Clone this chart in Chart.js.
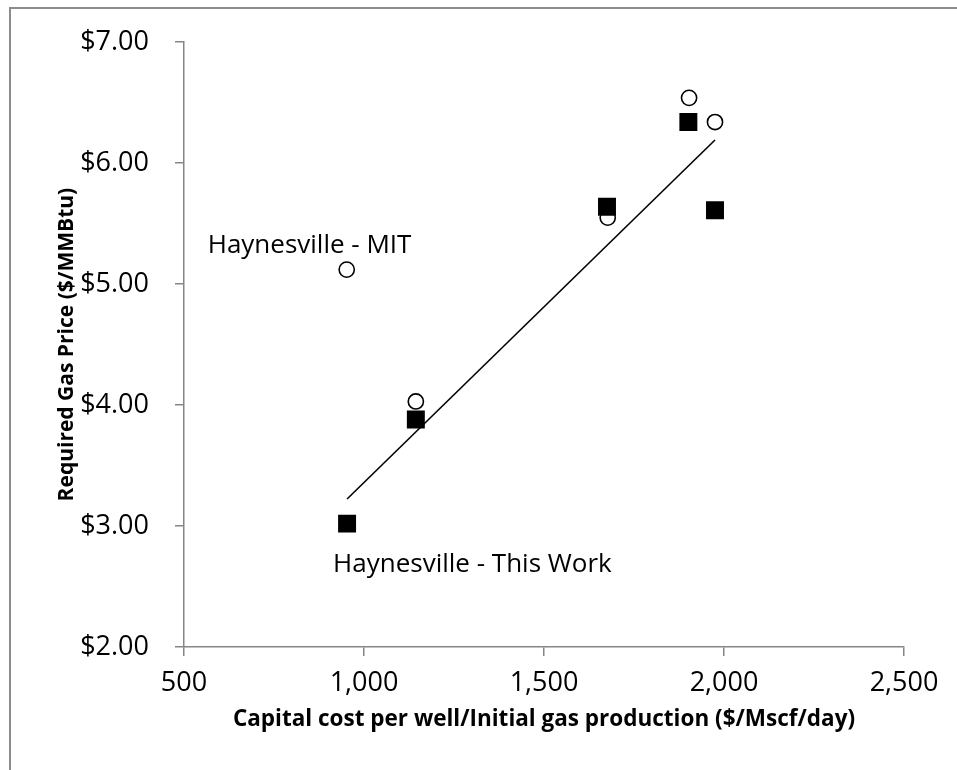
<!DOCTYPE html>
<html>
<head>
<meta charset="utf-8">
<script src="https://cdn.jsdelivr.net/npm/chart.js@4/dist/chart.umd.min.js"></script>
<style>
  html, body { margin: 0; padding: 0; background: #fff; }
  #wrap { position: relative; width: 957px; height: 770px; }
</style>
</head>
<body>
<div id="wrap"><canvas id="c" width="957" height="770"></canvas></div>
<script>
// Capital cost per well / initial production ($/Mscf/day)
const costMIT = [952, 1144, 1677, 1903, 1975];
const priceMIT = [5.12, 4.03, 5.55, 6.54, 6.34];
const costThisWork = [953, 1144, 1675, 1901, 1975];
const priceThisWork = [3.02, 3.88, 5.64, 6.34, 5.61];
const xTicks = [500, 1000, 1500, 2000, 2500];
const yTicks = [2, 3, 4, 5, 6, 7];
const labelMIT = 'Haynesville - MIT';
const labelThisWork = 'Haynesville - This Work';
const xTitle = 'Capital cost per well/Initial gas production ($/Mscf/day)';
const yTitle = 'Required Gas Price ($/MMBtu)';

// least-squares trend line through the "This Work" points
function linearFit(xs, ys) {
  const n = xs.length;
  const mx = xs.reduce((a, b) => a + b, 0) / n;
  const my = ys.reduce((a, b) => a + b, 0) / n;
  let sxy = 0, sxx = 0;
  for (let i = 0; i < n; i++) { sxy += (xs[i] - mx) * (ys[i] - my); sxx += (xs[i] - mx) ** 2; }
  const m = sxy / sxx;
  return x => my + m * (x - mx);
}
const fit = linearFit(costThisWork, priceThisWork);
const xLo = Math.min(...costThisWork), xHi = Math.max(...costThisWork);
const trend = [{ x: xLo, y: fit(xLo) }, { x: xHi, y: fit(xHi) }];

const pts = (xs, ys) => xs.map((x, i) => ({ x, y: ys[i] }));
const FONT = '"Open Sans", "Liberation Sans", sans-serif';
const AXIS = '#868686';

const decor = {
  id: 'decor',
  beforeDraw(chart) {
    const ctx = chart.ctx;
    ctx.save();
    ctx.strokeStyle = '#8c8c8c';
    ctx.lineWidth = 2;
    ctx.beginPath();
    ctx.moveTo(10, 775);
    ctx.lineTo(10, 8);
    ctx.lineTo(960, 8);
    ctx.stroke();
    ctx.restore();
  },
  afterDraw(chart) {
    const ctx = chart.ctx;
    const xs = chart.scales.x, ys = chart.scales.y;
    const a = chart.chartArea;
    ctx.save();
    ctx.fillStyle = '#000';
    // point annotations
    ctx.font = '26px ' + FONT;
    ctx.textAlign = 'left';
    ctx.textBaseline = 'alphabetic';
    ctx.fillText(labelMIT, xs.getPixelForValue(costMIT[0]) - 139, ys.getPixelForValue(priceMIT[0]) - 16.5);
    ctx.fillText(labelThisWork, xs.getPixelForValue(costThisWork[0]) - 14, ys.getPixelForValue(priceThisWork[0]) + 48.5);
    // axis titles
    ctx.font = 'bold 22.5px ' + FONT;
    ctx.textAlign = 'center';
    ctx.fillText(xTitle, (a.left + a.right) / 2, 726);
    ctx.font = 'bold 21px ' + FONT;
    ctx.translate(73, (a.top + a.bottom) / 2);
    ctx.rotate(-Math.PI / 2);
    ctx.fillText(yTitle, 0, 0);
    ctx.restore();
  }
};

new Chart(document.getElementById('c'), {
  type: 'scatter',
  data: {
    datasets: [
      {
        label: 'This Work',
        data: pts(costThisWork, priceThisWork),
        pointStyle: 'rect',
        pointRadius: 12.7,
        pointHoverRadius: 12.7,
        backgroundColor: '#000',
        borderColor: '#000',
        borderWidth: 0,
        order: 0
      },
      {
        label: 'MIT',
        data: pts(costMIT, priceMIT),
        pointStyle: 'circle',
        pointRadius: 7.6,
        pointHoverRadius: 7.6,
        backgroundColor: '#fff',
        borderColor: '#000',
        borderWidth: 1.6,
        order: 1
      },
      {
        label: 'Trend',
        data: trend,
        showLine: true,
        pointRadius: 0,
        borderColor: '#000',
        borderWidth: 1.6,
        order: 2
      }
    ]
  },
  options: {
    responsive: false,
    animation: false,
    events: [],
    layout: { padding: { top: 39, right: 53, left: 0, bottom: 0 } },
    plugins: { legend: { display: false }, tooltip: { enabled: false } },
    scales: {
      x: {
        type: 'linear',
        min: xTicks[0],
        max: xTicks[xTicks.length - 1],
        afterBuildTicks(s) { s.ticks = xTicks.map(v => ({ value: v })); },
        afterFit(s) { s.height = 123; },
        border: { color: AXIS, width: 1.5 },
        grid: { drawOnChartArea: false, color: AXIS, lineWidth: 1.5, tickLength: 9 },
        ticks: {
          color: '#000',
          padding: 11,
          font: { family: FONT, size: 27 },
          maxRotation: 0,
          callback: v => v.toLocaleString('en-US')
        }
      },
      y: {
        type: 'linear',
        min: yTicks[0],
        max: yTicks[yTicks.length - 1],
        afterBuildTicks(s) { s.ticks = yTicks.map(v => ({ value: v })); },
        afterFit(s) { s.width = 184; },
        border: { color: AXIS, width: 1.5 },
        grid: { drawOnChartArea: false, color: AXIS, lineWidth: 1.5, tickLength: 9 },
        ticks: {
          color: '#000',
          padding: 26,
          font: { family: FONT, size: 27 },
          callback: v => '$' + v.toFixed(2)
        }
      }
    }
  },
  plugins: [decor]
});
</script>
</body>
</html>
